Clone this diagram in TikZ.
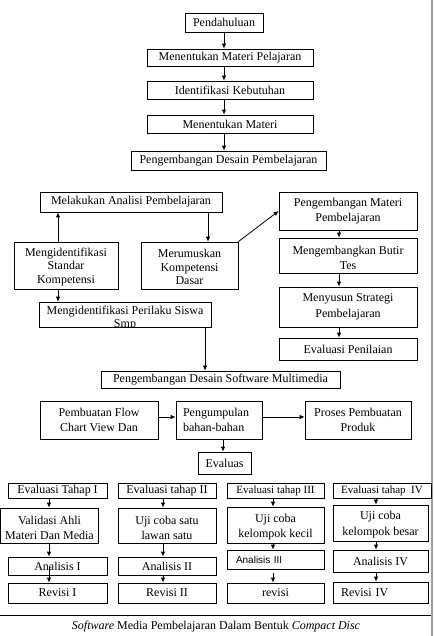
\documentclass[tikz,border=0pt]{standalone}
\usepackage{fontspec}
\setmainfont{Liberation Serif}
\newfontfamily\sansf{Liberation Sans}
\usetikzlibrary{arrows.meta}
\newcommand{\pushdown}[1]{\rule{0pt}{#1}}
\begin{document}
\begin{tikzpicture}[x=1pt,y=-1pt,
  box/.style={draw=black, line width=0.7pt, inner sep=0pt, align=center, font=\fontsize{12}{14.5}\selectfont},
  smallbox/.style={box, font=\fontsize{11}{13}\selectfont},
  arr/.style={-{Latex[length=5pt,width=4.5pt]}, line width=0.8pt},
]
\useasboundingbox (0,0) rectangle (433,636);
\fill[gray!75] (431,0) rectangle (433,636);

% ---- section 1
\node[box, minimum width=78pt, minimum height=19pt] (n1) at (224,22.5) {Pendahuluan};
\node[box, minimum width=166pt, minimum height=17pt] (n2) at (230,57.5) {Menentukan Materi Pelajaran};
\node[box, minimum width=166pt, minimum height=18pt] (n3) at (230,90) {Identifikasi Kebutuhan};
\node[box, minimum width=166pt, minimum height=18pt] (n4) at (230,124) {Menentukan Materi};
\node[box, minimum width=195pt, minimum height=19pt] (n5) at (228.5,160.5) {Pengembangan Desain Pembelajaran};
\draw[arr] (n1.south) -- (n1.south |- n2.north);
\draw[arr] (n1.south |- n2.south) -- (n1.south |- n3.north);
\draw[arr] (n1.south |- n3.south) -- (n1.south |- n4.north);
\draw[arr] (n1.south |- n4.south) -- (n1.south |- n5.north);

% ---- section 2
\node[box, minimum width=182pt, minimum height=20pt] (a1) at (131,202) {Melakukan Analisi Pembelajaran};
\node[box, minimum width=138pt, minimum height=38pt, font=\fontsize{12}{15.5}\selectfont] (a2) at (348,211) {Pengembangan Materi\\Pembelajaran};
\node[box, minimum width=104pt, minimum height=47pt, font=\fontsize{12}{13.3}\selectfont] (a3) at (66,265.5) {\pushdown{11.5pt}Mengidentifikasi\\Standar\\Kompetensi};
\node[box, minimum width=97pt, minimum height=47pt, font=\fontsize{12}{13.3}\selectfont] (a4) at (189.5,265.5) {\pushdown{11.5pt}Merumuskan\\Kompetensi\\Dasar};
\node[box, minimum width=138pt, minimum height=35pt, font=\fontsize{12}{15}\selectfont] (a5) at (348,255.5) {\pushdown{14pt}Mengembangkan Butir\\Tes};
\node[box, minimum width=172pt, minimum height=25pt] (a6) at (125,314.5) {};
\begin{scope}
  \clip (a6.south west) rectangle (a6.north east);
  \node[inner sep=0pt, align=center, anchor=north, font=\fontsize{12}{12.5}\selectfont] (a6t) at ([yshift=-4.5pt]a6.north) {Mengidentifikasi Perilaku Siswa\\Smp};
\end{scope}
\node[box, minimum width=138pt, minimum height=40pt, font=\fontsize{12}{16.5}\selectfont] (a7) at (348,307) {Menyusun Strategi\\Pembelajaran};
\node[box, minimum width=138pt, minimum height=22pt] (a8) at (348,349) {Evaluasi Penilaian};
\node[box, minimum width=239pt, minimum height=17pt] (a9) at (220.5,379.5) {Pengembangan Desain Software Multimedia};

\coordinate (p3) at ([xshift=-8pt]a3.north);
\draw[arr] (p3) -- (p3 |- a1.south);
\coordinate (p4) at ([xshift=18.5pt]a4.north);
\draw[arr] (p4 |- a1.south) -- (p4);
\draw[arr] (a4.north east) -- (a2.west);
\coordinate (p2) at ([xshift=-9pt]a2.south);
\draw[arr] (p2) -- (p2 |- a5.north);
\draw[arr] (p2 |- a5.south) -- (p2 |- a7.north);
\draw[arr] (p2 |- a7.south) -- (p2 |- a8.north);
\coordinate (p5) at ([xshift=-8pt]a3.south);
\draw[arr] (p5) -- (p5 |- a6.north);
\coordinate (p6) at ([xshift=80pt]a6.south);
\draw[arr] (p6) -- (p6 |- a9.north);

% ---- section 3
\node[box, minimum width=118pt, minimum height=38pt, font=\fontsize{12}{14.5}\selectfont] (b1) at (99,420) {Pembuatan Flow\\Chart View Dan};
\node[box, minimum height=38pt, text width=72pt, inner xsep=7pt, align=left, font=\fontsize{12}{14.5}\selectfont] (b2) at (219,420) {Pengumpulan\\bahan-bahan};
\node[box, minimum width=106pt, minimum height=38pt, font=\fontsize{12}{14.5}\selectfont] (b3) at (358,420) {Proses Pembuatan\\Produk};
\node[box, minimum width=53pt, minimum height=22pt] (b4) at (224.5,463) {Evaluas};
\draw[arr] ([yshift=3pt]b1.east) -- ([yshift=3pt]b2.west);
\draw[arr] ([yshift=3pt]b2.east) -- ([yshift=3pt]b3.west);
\coordinate (p7) at ([xshift=4pt]b2.south);
\draw[arr] (p7) -- (p7 |- b4.north);

% ---- section 4, column 1
\node[box, minimum width=99pt, minimum height=15pt] (c11) at (57.5,490.5) {Evaluasi Tahap I};
\node[box, minimum width=98pt, minimum height=35pt, font=\fontsize{12}{15}\selectfont] (c12) at (49.5,525.5) {\pushdown{13pt}Validasi Ahli\\Materi Dan Media};
\node[box, minimum width=99pt, minimum height=18pt] (c13) at (57.5,566) {Analisis I};
\node[box, minimum width=99pt, minimum height=20pt] (c14) at (57.5,593) {Revisi I};
\coordinate (q1) at ([xshift=-8.5pt]c11.south);
\draw[arr] (q1) -- (q1 |- c12.north);
\draw[arr] (q1 |- c12.south) -- (q1 |- c13.north);
\draw[arr] (q1 |- c13.center) -- (q1 |- c14.north);

% column 2
\node[box, minimum width=98pt, minimum height=15pt] (c21) at (167,490.5) {Evaluasi tahap II};
\node[box, minimum width=98pt, minimum height=35pt, font=\fontsize{12}{15}\selectfont] (c22) at (167,525.5) {\pushdown{13pt}Uji coba satu\\lawan satu};
\node[box, minimum width=98pt, minimum height=18pt] (c23) at (167,566) {Analisis II};
\node[box, minimum width=98pt, minimum height=20pt] (c24) at (167,593) {Revisi II};
\coordinate (q2) at ([xshift=-4pt]c21.south);
\draw[arr] (q2) -- (q2 |- c22.north);
\draw[arr] (q2 |- c22.south) -- (q2 |- c23.north);
\draw[arr] (q2 |- c23.south) -- (q2 |- c24.north);

% column 3
\node[smallbox, minimum width=97pt, minimum height=15pt] (c31) at (275.5,490.5) {Evaluasi tahap III};
\node[box, minimum width=97pt, minimum height=36pt, font=\fontsize{12}{15.3}\selectfont] (c32) at (275.5,525) {\pushdown{13pt}Uji coba\\kelompok kecil};
\node[box, minimum height=19pt, text width=79pt, inner xsep=9pt, align=left, font=\sansf\fontsize{10}{12}\selectfont] (c33) at (275.5,559.5) {Analisis III};
\node[box, minimum width=97pt, minimum height=20pt] (c34) at (275.5,593) {revisi};
\coordinate (q3) at ([xshift=-2.5pt]c31.south);
\draw[arr] (q3) -- (q3 |- c32.north);
\draw[arr] (q3 |- c32.south) -- (q3 |- c33.north);
\draw[arr] ([yshift=-4pt]q3 |- c33.south) -- (q3 |- c34.north);

% column 4
\node[smallbox, minimum width=98pt, minimum height=15pt] (c41) at (382,490.5) {Evaluasi tahap\ \ IV};
\node[box, minimum width=95pt, minimum height=36pt, font=\fontsize{12}{16}\selectfont] (c42) at (380.5,523) {\pushdown{11pt}Uji coba\\kelompok besar};
\node[box, minimum width=95pt, minimum height=22pt] (c43) at (380.5,561) {Analisis IV};
\node[box, minimum height=21pt, text width=79pt, inner xsep=8pt, align=left] (c44) at (380.5,592.5) {Revisi IV};
\coordinate (q4) at ([xshift=-6pt]c41.south);
\draw[arr] (q4) -- (q4 |- c42.north);
\draw[arr] (q4 |- c42.south) -- (q4 |- c43.north);
\draw[arr] (q4 |- c43.south) -- (q4 |- c44.north);

% ---- bottom rule and caption
\draw[line width=0.7pt] (0,615) -- (431,615);
\node[font=\fontsize{12}{14}\selectfont, inner sep=0pt] (cap) at (216,627) {\textit{Software} Media Pembelajaran Dalam Bentuk \textit{Compact Disc}};
\end{tikzpicture}
\end{document}
